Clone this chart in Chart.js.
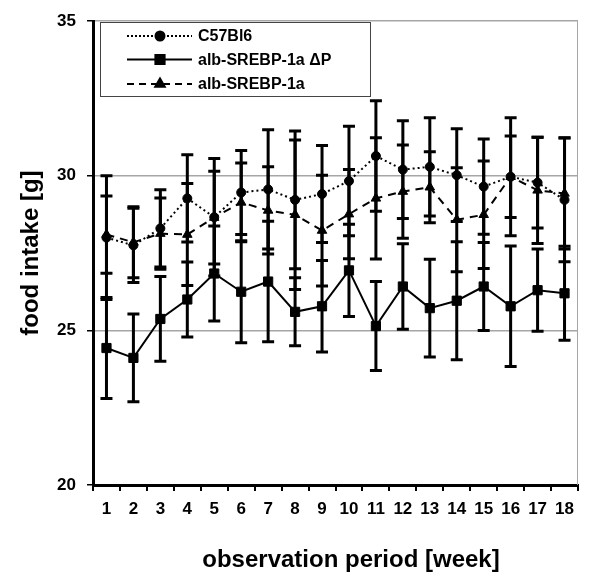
<!DOCTYPE html>
<html>
<head>
<meta charset="utf-8">
<script src="https://cdn.jsdelivr.net/npm/chart.js@4.4.0/dist/chart.umd.min.js"></script>
<style>
  body { margin: 0; background: #fff; }
  #wrap { width: 593px; height: 578px; }
</style>
</head>
<body>
<div id="wrap"><canvas id="foodChart" width="593" height="578"></canvas></div>
<script>
// weeks of observation
const weeks = ['1', '2', '3', '4', '5', '6', '7', '8', '9', '10', '11', '12', '13', '14', '15', '16', '17', '18'];

// C57Bl6 (dotted line, circles)
const c57Mean = [28.0, 27.75, 28.3, 29.27, 28.66, 29.46, 29.56, 29.22, 29.41, 29.83, 30.64, 30.2, 30.29, 30.02, 29.65, 29.97, 29.78, 29.22];
const c57Err = [2.0, 1.2, 1.25, 1.41, 1.9, 1.36, 1.93, 2.23, 1.57, 1.77, 1.79, 1.58, 1.59, 1.5, 1.54, 1.91, 1.47, 2.0];

// alb-SREBP-1a ΔP (solid line, squares)
const dpMean = [24.43, 24.11, 25.37, 26.0, 26.84, 26.25, 26.58, 25.6, 25.78, 26.94, 25.14, 26.42, 25.72, 25.96, 26.42, 25.78, 26.3, 26.2];
const dpErr = [1.63, 1.42, 1.37, 1.21, 1.54, 1.65, 1.95, 1.1, 1.48, 1.49, 1.44, 1.38, 1.58, 1.91, 1.42, 1.95, 1.33, 1.52];

// alb-SREBP-1a (dashed line, triangles)
const srebpMean = [28.1, 27.85, 28.13, 28.1, 28.65, 29.14, 28.88, 28.74, 28.23, 28.76, 29.27, 29.49, 29.63, 28.58, 28.74, 29.97, 29.53, 29.43];
const srebpErr = [1.25, 1.15, 1.15, 1.65, 1.5, 1.27, 1.41, 2.42, 1.79, 1.44, 1.96, 1.51, 1.15, 1.68, 1.74, 1.32, 1.72, 1.8];

const yTicks = [20, 25, 30, 35];

const errors = [c57Err, dpErr, srebpErr];

// error bars, drawn from the y scale
const errorBarPlugin = {
    id: 'errorBars',
    beforeDatasetsDraw(chart) {
        const ctx = chart.ctx;
        const yScale = chart.scales.y;
        ctx.save();
        ctx.strokeStyle = '#000';
        ctx.lineWidth = 3;
        chart.data.datasets.forEach((ds, i) => {
            const meta = chart.getDatasetMeta(i);
            meta.data.forEach((pt, j) => {
                const v = ds.data[j];
                const e = errors[i][j];
                const yTop = yScale.getPixelForValue(v + e);
                const yBot = yScale.getPixelForValue(v - e);
                ctx.beginPath();
                ctx.moveTo(pt.x, yTop);
                ctx.lineTo(pt.x, yBot);
                ctx.moveTo(pt.x - 6, yTop);
                ctx.lineTo(pt.x + 6, yTop);
                ctx.moveTo(pt.x - 6, yBot);
                ctx.lineTo(pt.x + 6, yBot);
                ctx.stroke();
            });
        });
        ctx.restore();
    }
};

// frame on the right, legend box and x title
const decorPlugin = {
    id: 'decor',
    beforeDatasetsDraw(chart) {
        const {ctx, chartArea} = chart;
        ctx.save();
        ctx.strokeStyle = '#a6a6a6';
        ctx.lineWidth = 1;
        ctx.beginPath();
        ctx.moveTo(chartArea.right - 0.5, chartArea.top);
        ctx.lineTo(chartArea.right - 0.5, chartArea.bottom);
        ctx.stroke();
        ctx.restore();
    },
    afterDraw(chart) {
        const ctx = chart.ctx;
        ctx.save();

        // legend
        ctx.fillStyle = '#fff';
        ctx.fillRect(100.5, 22.5, 270, 74);
        ctx.strokeStyle = '#444';
        ctx.lineWidth = 1;
        ctx.strokeRect(100.5, 22.5, 270, 74);

        const rows = [36, 59.5, 84];
        chart.data.datasets.forEach((ds, i) => {
            const y = rows[i];
            ctx.strokeStyle = '#000';
            ctx.lineWidth = 2;
            ctx.setLineDash(i === 0 ? [2, 2] : (i === 2 ? [7, 5] : []));
            ctx.beginPath();
            ctx.moveTo(127, y);
            ctx.lineTo(192, y);
            ctx.stroke();
            ctx.setLineDash([]);
            ctx.fillStyle = '#000';
            Chart.helpers.drawPoint(ctx, {
                pointStyle: ds.pointStyle,
                radius: ds.pointRadius,
                borderWidth: 1
            }, 160, y);
            ctx.fill();
            ctx.font = 'bold 16px "Liberation Sans", Arial, sans-serif';
            ctx.textBaseline = 'middle';
            ctx.textAlign = 'left';
            ctx.fillText(ds.label, 198, y + 1);
        });

        // x axis title
        ctx.fillStyle = '#000';
        ctx.font = 'bold 24px "Liberation Sans", Arial, sans-serif';
        ctx.textAlign = 'center';
        ctx.textBaseline = 'alphabetic';
        ctx.fillText('observation period [week]', 351, 567);
        ctx.restore();
    }
};

const tickFont = { family: '"Liberation Sans", Arial, sans-serif', size: 17, weight: 'bold' };

new Chart(document.getElementById('foodChart').getContext('2d'), {
    type: 'line',
    data: {
        labels: weeks,
        datasets: [
            {
                label: 'C57Bl6',
                data: c57Mean,
                borderColor: '#000',
                backgroundColor: '#000',
                borderWidth: 2,
                borderDash: [2, 3],
                pointStyle: 'circle',
                pointRadius: 4.5,
                pointBorderWidth: 1,
                tension: 0
            },
            {
                label: 'alb-SREBP-1a \u0394P',
                data: dpMean,
                borderColor: '#000',
                backgroundColor: '#000',
                borderWidth: 2,
                pointStyle: 'rect',
                pointRadius: 6.5,
                pointBorderWidth: 1,
                tension: 0
            },
            {
                label: 'alb-SREBP-1a',
                data: srebpMean,
                borderColor: '#000',
                backgroundColor: '#000',
                borderWidth: 2,
                borderDash: [8, 6],
                pointStyle: 'triangle',
                pointRadius: 5.5,
                pointBorderWidth: 1,
                tension: 0
            }
        ]
    },
    options: {
        responsive: false,
        animation: false,
        layout: { padding: { left: 0, right: 15, top: 15, bottom: 0 } },
        plugins: {
            legend: { display: false },
            tooltip: { enabled: false }
        },
        scales: {
            x: {
                offset: true,
                grid: {
                    offset: true,
                    drawOnChartArea: false,
                    color: '#000',
                    lineWidth: 2,
                    tickLength: 6
                },
                border: { color: '#000', width: 3 },
                ticks: {
                    font: tickFont,
                    color: '#000',
                    padding: 8,
                    maxRotation: 0,
                    autoSkip: false
                },
                afterFit: s => { s.height = 93; }
            },
            y: {
                min: 20,
                max: 35,
                afterBuildTicks: s => { s.ticks = yTicks.map(v => ({ value: v })); },
                grid: {
                    color: c => c.tick && c.tick.value === 20 ? 'rgba(0,0,0,0)' : '#a6a6a6',
                    tickColor: '#000',
                    lineWidth: 1.5,
                    tickLength: 6
                },
                border: { color: '#000', width: 3 },
                ticks: {
                    font: tickFont,
                    color: '#000',
                    padding: 11
                },
                title: {
                    display: true,
                    text: 'food intake [g]',
                    color: '#000',
                    font: { family: '"Liberation Sans", Arial, sans-serif', size: 24, weight: 'bold' },
                    padding: { top: 17, bottom: 0 }
                },
                afterFit: s => { s.width = 93; }
            }
        }
    },
    plugins: [errorBarPlugin, decorPlugin]
});
</script>
</body>
</html>
